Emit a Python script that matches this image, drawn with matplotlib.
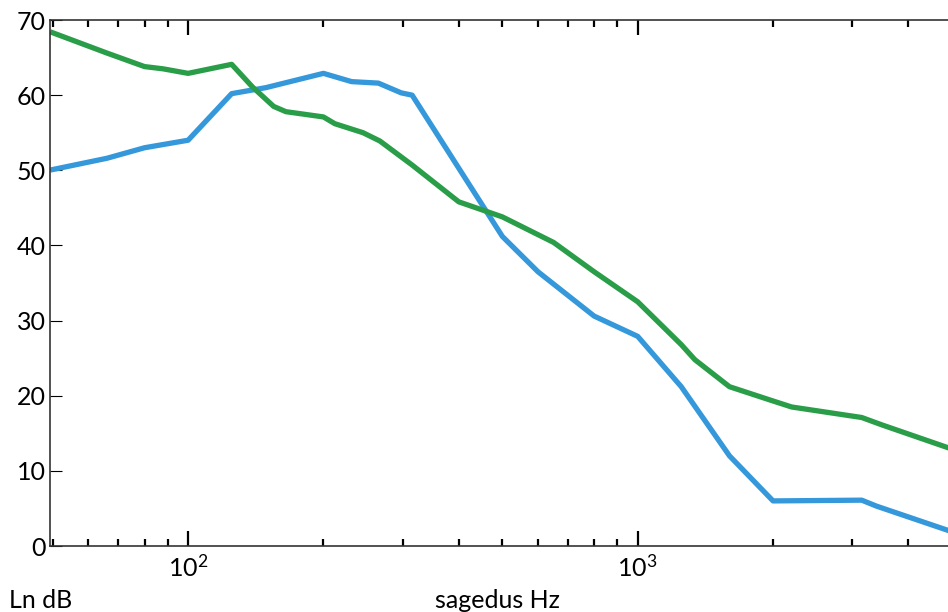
import matplotlib
matplotlib.use("Agg")
import matplotlib.pyplot as plt

plt.rcParams['font.family'] = ['Lato', 'DejaVu Sans']

# frequency (Hz) and level (dB)
blue_f = [50, 66, 80, 100, 125, 149, 200, 231, 265, 298, 315, 500, 600, 800,
          1000, 1250, 1600, 2000, 3150, 3400, 5000]
blue_db = [50.1, 51.6, 53.0, 54.0, 60.2, 61.0, 62.9, 61.8, 61.6, 60.3, 60.0,
           41.2, 36.5, 30.6, 27.9, 21.2, 12.0, 6.0, 6.1, 5.3, 1.9]

green_f = [50, 66, 80, 88, 100, 125, 139, 155, 165, 200, 212, 245, 267, 315,
           400, 500, 650, 800, 1000, 1250, 1340, 1600, 2000, 2200, 3150, 3500,
           5000]
green_db = [68.3, 65.6, 63.8, 63.5, 62.9, 64.1, 61.1, 58.5, 57.8, 57.1, 56.2,
            55.0, 53.9, 50.7, 45.8, 43.8, 40.4, 36.5, 32.5, 26.8, 24.8, 21.2,
            19.3, 18.5, 17.1, 16.1, 12.9]

y_ticks = [0, 10, 20, 30, 40, 50, 60, 70]

fig = plt.figure(figsize=(9.48, 6.12), dpi=100)
ax = fig.add_axes([50 / 948, 1 - 546 / 612, 898 / 948, 526 / 612])

ax.plot(blue_f, blue_db, color='#3498db', lw=3.8)
ax.plot(green_f, green_db, color='#2a9d48', lw=3.8)

ax.set_xscale('log')
ax.set_xlim(49.3, 4900)
ax.set_ylim(0, 70)
ax.set_yticks(y_ticks)

for s in ['left', 'top', 'bottom']:
    ax.spines[s].set_color('#333333')
    ax.spines[s].set_linewidth(1.2)
ax.spines['right'].set_visible(False)

ax.tick_params(axis='x', which='major', direction='in', top=True, length=11,
               width=1.6, pad=6, labelsize=18, color='black')
ax.tick_params(axis='x', which='minor', direction='in', top=True, length=5,
               width=1.6, color='black')
ax.tick_params(axis='y', which='major', direction='in', length=8.5, width=0.8,
               pad=3, labelsize=18, right=False)

fig.text(9 / 948, 1 - 600 / 612, 'Ln dB', fontsize=18, va='center', ha='left')
fig.text(497 / 948, 1 - 600 / 612, 'sagedus Hz', fontsize=18, va='center',
         ha='center')

fig.savefig('out.png', dpi=100)
